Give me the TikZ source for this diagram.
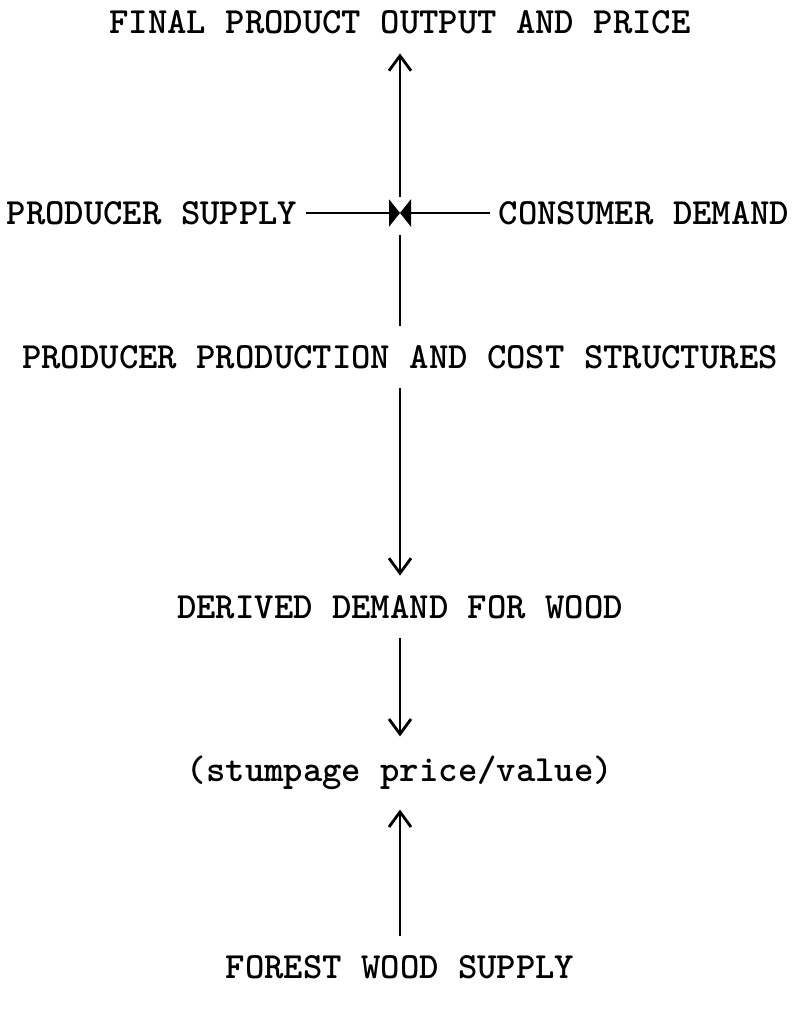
\documentclass[tikz,border=0pt]{standalone}
\usepackage{fontspec}
\usepackage{tikz}
\usetikzlibrary{arrows.meta}

\begin{document}
\begin{tikzpicture}[>={Straight Barb[length=0.15cm,width=0.22cm]},
  lbl/.style={inner xsep=0.08cm,inner ysep=0.19cm,font=\fontsize{10.5}{12}\selectfont\ttfamily\bfseries},
  flow/.style={line width=0.8pt},
  meet/.style={line width=0.8pt,-{Triangle[length=0.11cm,width=0.27cm]}}]
\useasboundingbox (0,0) rectangle (7.96,10.10);
\node[lbl] (final) at (4.00,9.88) {FINAL PRODUCT OUTPUT AND PRICE};
\node[lbl,anchor=east] (supply) at (3.06,7.97) {PRODUCER SUPPLY};
\node[lbl,anchor=west] (demand) at (4.90,7.97) {CONSUMER DEMAND};
\coordinate (eq) at (4.00,7.97);
\node[lbl] (prod) at (4.00,6.53) {PRODUCER PRODUCTION AND COST STRUCTURES};
\node[lbl] (derived) at (4.00,4.03) {DERIVED DEMAND FOR WOOD};
\node[lbl] (stump) at (4.00,2.37) {(stumpage price/value)};
\node[lbl] (forest) at (4.00,0.43) {FOREST WOOD SUPPLY};
\draw[meet](supply)--(eq);
\draw[meet](demand)--(eq);
\draw[flow,->,shorten <=0.16cm](eq)--(final);
\draw[flow,shorten <=0.22cm](eq)--(prod);
\draw[flow,->](prod)--(derived);
\draw[flow,->](derived)--(stump);
\draw[flow,->](forest)--(stump);
\end{tikzpicture}
\end{document}
